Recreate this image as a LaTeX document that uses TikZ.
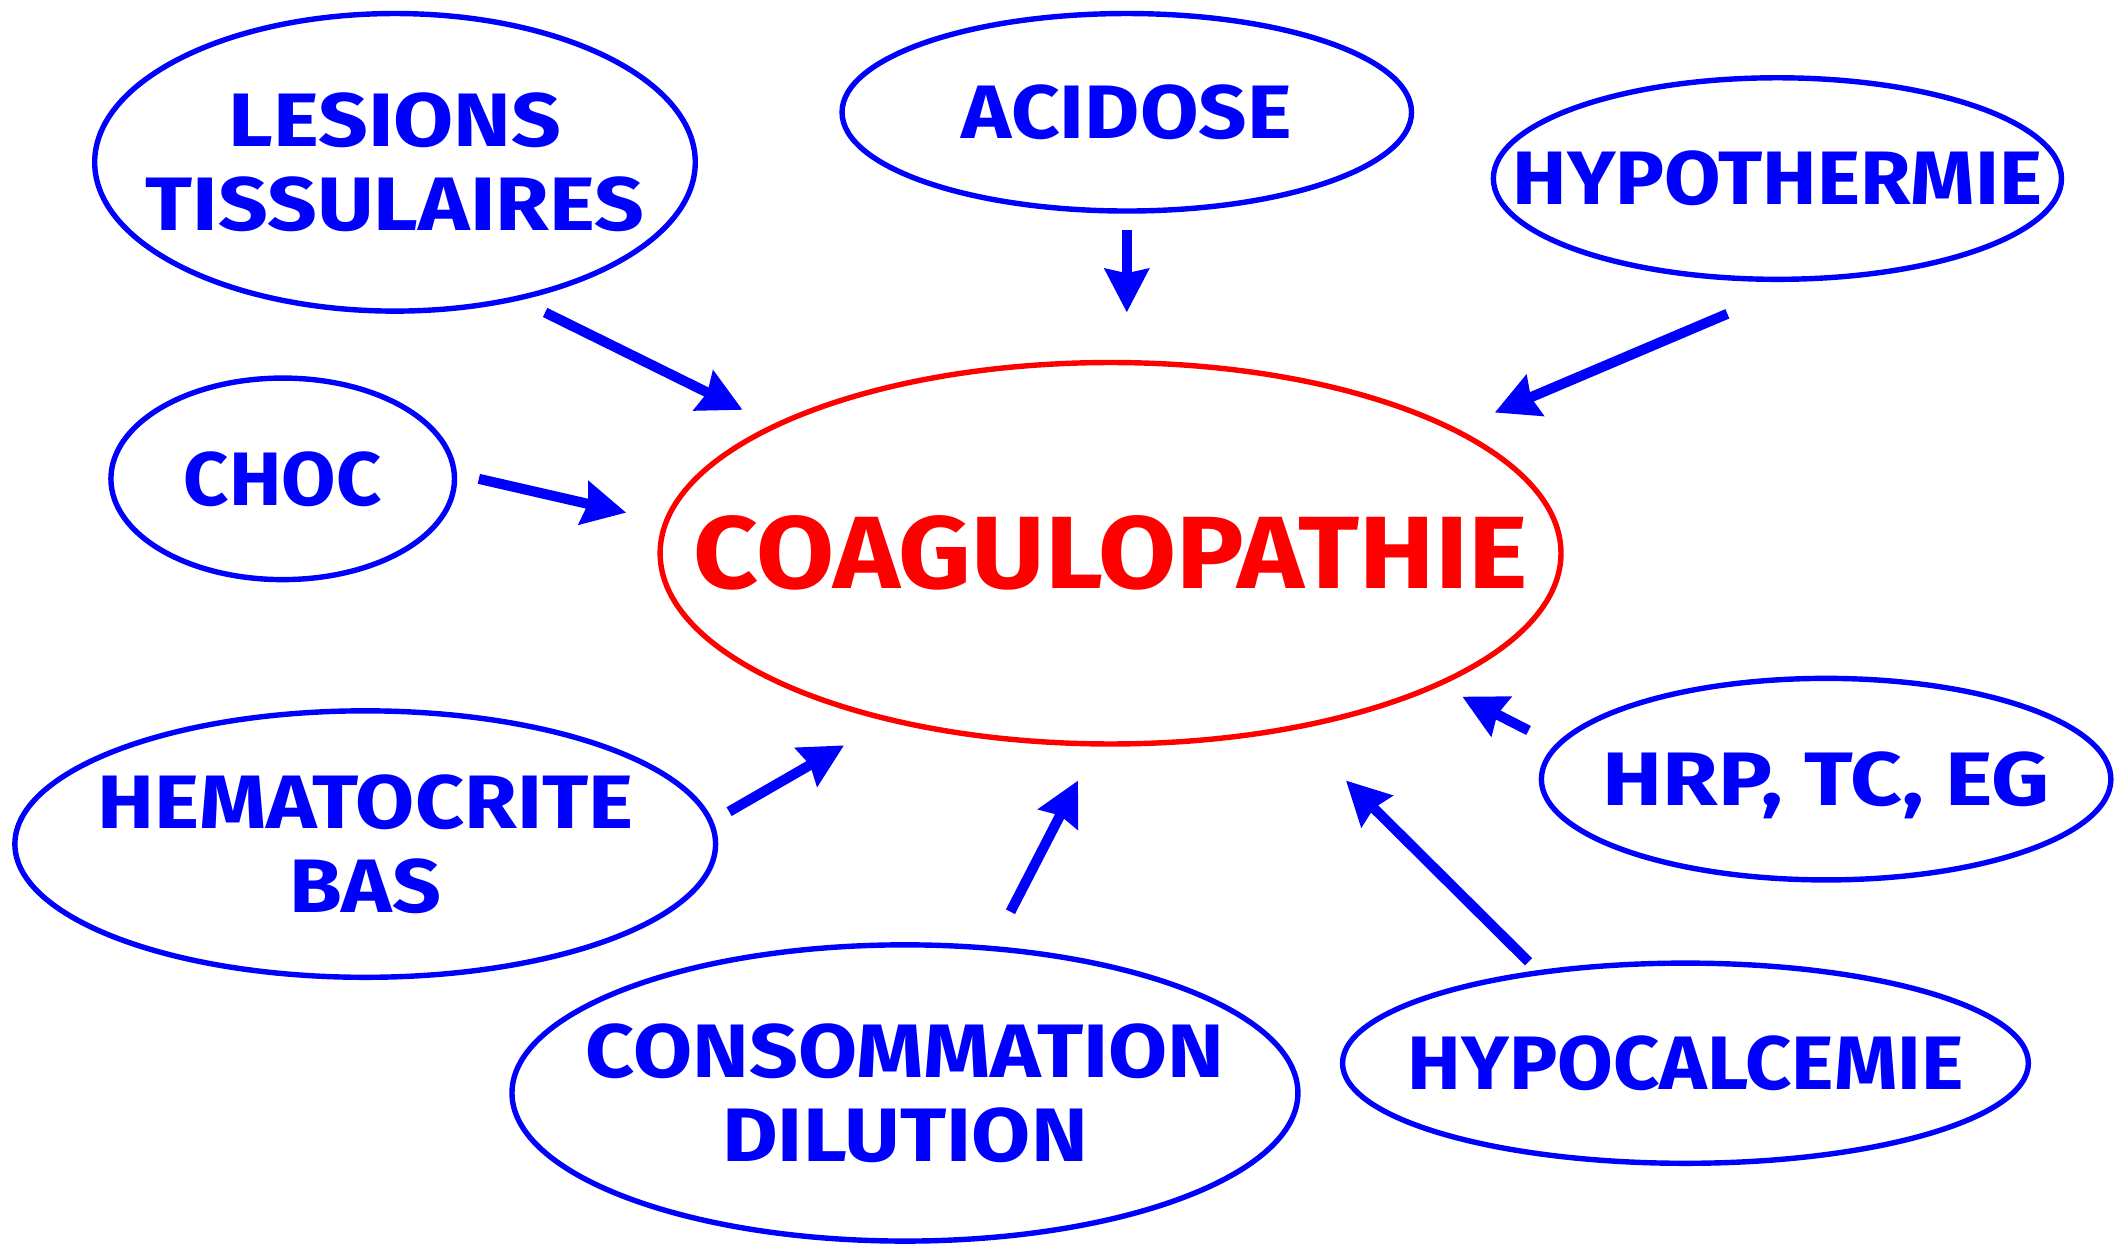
\documentclass[tikz,border=0pt]{standalone}
\usepackage{fontspec}
\usepackage{graphicx}
\setmainfont{Fira Sans}
\usetikzlibrary{shapes.geometric,arrows.meta}
\definecolor{cblue}{RGB}{0,0,255}
\definecolor{cred}{RGB}{255,0,0}
% widened, centred block of lines
\newcommand\wtext[2][1.12]{\scalebox{#1}[1]{\begin{tabular}{@{}c@{}}#2\end{tabular}}}
\tikzset{
  cause/.style={ellipse, draw=cblue, line width=4pt, inner sep=0pt},
  causetext/.style={text=cblue, inner sep=0pt, yshift=-7pt,
    font={\fontsize{56}{62}\selectfont\bfseries}},
  centre/.style={ellipse, draw=cred, line width=4pt, inner sep=0pt},
  centretext/.style={text=cred, inner sep=0pt, yshift=-10pt,
    font={\fontsize{76}{80}\selectfont\bfseries}},
  push/.style={draw=cblue, line width=7.5pt,
    -{Triangle[length=32pt,width=32pt,inset=3pt]}},
}
\begin{document}
\begin{tikzpicture}[x=1pt,y=-1pt]
\useasboundingbox (0,0) rectangle (1568,920);
% central effect
\node[centre, minimum width=666pt, minimum height=282pt] (coag) at (821,409) {};
\node[centretext] (coag-t) at (coag) {\wtext[1.10]{COAGULOPATHIE}};
% contributing factors
\node[cause, minimum width=444pt, minimum height=220pt] (les) at (292,120) {};
\node[causetext] (les-t) at (les) {\wtext[1.15]{LESIONS\\TISSULAIRES}};
\node[cause, minimum width=421pt, minimum height=146pt] (acid) at (833,83) {};
\node[causetext] (acid-t) at (acid) {\wtext[1.12]{ACIDOSE}};
\node[cause, minimum width=420pt, minimum height=149pt] (hypo) at (1314,132) {};
\node[causetext] (hypo-t) at (hypo) {\wtext[1.08]{HYPOTHERMIE}};
\node[cause, minimum width=254pt, minimum height=149pt] (choc) at (209,354) {};
\node[causetext] (choc-t) at (choc) {\wtext[1.04]{CHOC}};
\node[cause, minimum width=518pt, minimum height=197pt] (hema) at (270,624) {};
\node[causetext] (hema-t) at (hema) {\wtext[1.13]{HEMATOCRITE\\BAS}};
\node[cause, minimum width=421pt, minimum height=149pt] (hrp) at (1350,576) {};
\node[causetext] (hrp-t) at (hrp) {\wtext[1.19]{HRP, TC, EG}};
\node[cause, minimum width=581pt, minimum height=219pt] (cons) at (669,808) {};
\node[causetext] (cons-t) at (cons) {\wtext[1.13]{CONSOMMATION\\DILUTION}};
\node[cause, minimum width=507pt, minimum height=148pt] (calc) at (1246,786) {};
\node[causetext] (calc-t) at (calc) {\wtext[1.065]{HYPOCALCEMIE}};
% arrow ends
\coordinate (les-a) at (403,231);  \coordinate (les-b) at (549,303);
\coordinate (acid-a) at (833,170); \coordinate (acid-b) at (833,231);
\coordinate (hypo-a) at (1277,232); \coordinate (hypo-b) at (1105,305);
\coordinate (choc-a) at (354,354); \coordinate (choc-b) at (463,379);
\coordinate (hema-a) at (539,600); \coordinate (hema-b) at (624,551);
\coordinate (cons-a) at (747,674); \coordinate (cons-b) at (797,577);
\coordinate (calc-a) at (1130,711); \coordinate (calc-b) at (995,577);
\coordinate (hrp-a) at (1130,540); \coordinate (hrp-b) at (1081,515);
\draw[push] (les-a) -- (les-b);
\draw[push] (acid-a) -- (acid-b);
\draw[push] (hypo-a) -- (hypo-b);
\draw[push] (choc-a) -- (choc-b);
\draw[push] (hema-a) -- (hema-b);
\draw[push] (cons-a) -- (cons-b);
\draw[push] (calc-a) -- (calc-b);
\draw[push] (hrp-a) -- (hrp-b);
\end{tikzpicture}
\end{document}
